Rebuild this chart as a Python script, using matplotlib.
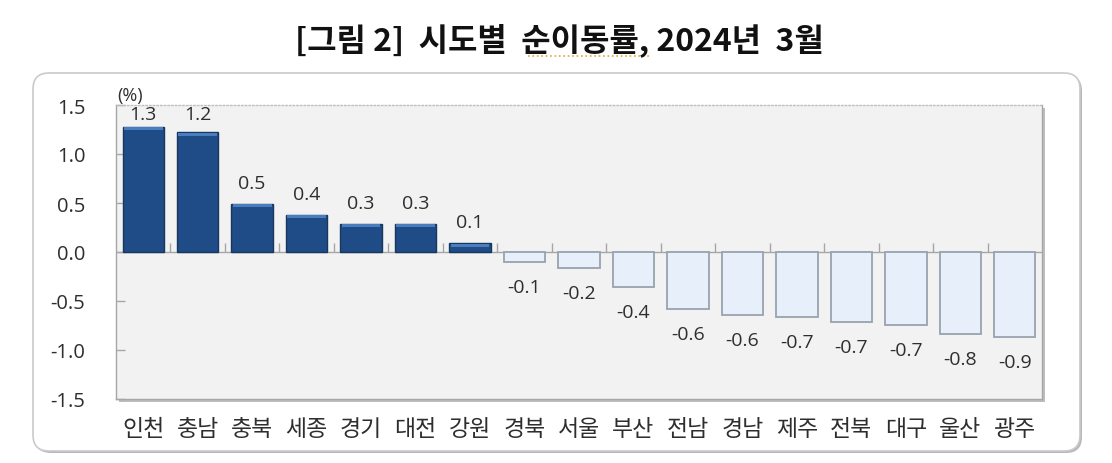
import numpy as np
import matplotlib
matplotlib.use("Agg")
import matplotlib.pyplot as plt
from matplotlib.patches import FancyBboxPatch, Rectangle
from matplotlib.lines import Line2D

plt.rcParams['font.family'] = ['Noto Sans CJK KR', 'DejaVu Sans']
plt.rcParams['axes.unicode_minus'] = False

# 시도별 순이동률 (%), 2024년 3월
regions = ['인천', '충남', '충북', '세종', '경기', '대전', '강원', '경북', '서울',
           '부산', '전남', '경남', '제주', '전북', '대구', '울산', '광주']
rates = [1.28, 1.22, 0.49, 0.38, 0.29, 0.29, 0.09, -0.10, -0.16,
         -0.36, -0.58, -0.64, -0.66, -0.71, -0.74, -0.84, -0.87]
yticks = [1.5, 1.0, 0.5, 0.0, -0.5, -1.0, -1.5]
title = '[그림 2]  시도별  순이동률, 2024년  3월'

POS_COLOR = '#1F4B86'
POS_EDGE = '#17375F'
POS_TOP = '#4A7DBE'
NEG_COLOR = '#E6EFFA'
NEG_EDGE = '#98A3AF'
GRID_GRAY = '#A6A6A6'
TEXT = '#2E2E2E'
NUM_FONT = ['Open Sans', 'DejaVu Sans']

fig = plt.figure(figsize=(11.12, 4.64), dpi=100)
fig.patch.set_facecolor('white')

# outer rounded frame with soft shadow (inches)
inch = fig.dpi_scale_trans
shadow_box = FancyBboxPatch((0.35, 0.10), 10.47, 3.78,
                            boxstyle='round,pad=0,rounding_size=0.16',
                            transform=inch, facecolor='#B8B8B8', edgecolor='none', zorder=-3)
frame_box = FancyBboxPatch((0.33, 0.12), 10.47, 3.78,
                           boxstyle='round,pad=0,rounding_size=0.16',
                           transform=inch, facecolor='white', edgecolor='#CACACA',
                           linewidth=1.2, zorder=-2)
fig.add_artist(shadow_box)
fig.add_artist(frame_box)

ax_l, ax_b, ax_w, ax_h = 116 / 1112, 64 / 464, 926 / 1112, 294 / 464
# plot area shadow
fig.add_artist(Rectangle((ax_l + 3 / 1112, ax_b - 3 / 464), ax_w, ax_h,
                         transform=fig.transFigure, facecolor='#BDBDBD',
                         edgecolor='none', zorder=-1))
ax = fig.add_axes([ax_l, ax_b, ax_w, ax_h])
ax.set_facecolor('#F2F2F2')

n = len(regions)
x = np.arange(n)
vals = np.array(rates)
pos = vals > 0
bw = 0.76

# positive bars: dark navy with lighter bevel on top
ax.bar(x[pos], vals[pos], width=bw, color=POS_COLOR, edgecolor=POS_EDGE,
       linewidth=1.0, zorder=3)
ax.bar(x[pos], np.full(pos.sum(), 0.03), bottom=vals[pos] - 0.035, width=bw - 0.05,
       color=POS_TOP, linewidth=0, zorder=4)
# negative bars: pale blue with grey outline
ax.bar(x[~pos], vals[~pos], width=bw, color=NEG_COLOR, edgecolor=NEG_EDGE,
       linewidth=1.3, zorder=3)

# value labels
for xi, v in zip(x, vals):
    if v > 0:
        ly = min(v + 0.215, 1.41)
    else:
        ly = v - 0.255
    ax.text(xi, ly, f'{v:.1f}', ha='center', va='center', fontsize=14,
            family=NUM_FONT, color=TEXT, zorder=5)

# zero line and separators
ax.axhline(0, color=GRID_GRAY, linewidth=1.0, zorder=2)
ax.vlines(np.arange(1, n) - 0.5, 0, 0.09, color=GRID_GRAY, linewidth=1.0, zorder=2)

ax.set_xlim(-0.5, n - 0.5)
ax.set_ylim(-1.5, 1.5)
ax.set_yticks(yticks)
ax.set_yticklabels([f'{t:.1f}' for t in yticks], family=NUM_FONT)
ax.tick_params(axis='y', direction='in', length=6.5, width=1, color=GRID_GRAY,
               pad=22, labelsize=14.5, labelcolor=TEXT)
ax.set_xticks(x)
ax.set_xticklabels(regions)
ax.tick_params(axis='x', length=0, pad=13, labelsize=16.5, labelcolor=TEXT)

for side in ['left', 'right', 'bottom']:
    ax.spines[side].set_color(GRID_GRAY)
    ax.spines[side].set_linewidth(1.0)
ax.spines['top'].set_color('#BFBFBF')
ax.spines['top'].set_linestyle(':')
ax.spines['top'].set_linewidth(1.0)

ax.annotate('(%)', xy=(0, 1), xycoords='axes fraction', xytext=(1, 7),
            textcoords='offset points', ha='left', va='center', fontsize=13,
            family=NUM_FONT, color=TEXT)

fig.text(559 / 1112, 1 - 40 / 464, title, ha='center', va='center',
         fontsize=23, fontweight='bold', color='#111111')
# spell-check squiggle under 순이동률 as in the source image
fig.add_artist(Line2D([5.28, 6.50], [4.07, 4.07], transform=inch, color='#E8A23C',
                      linestyle=':', linewidth=1.2))

fig.savefig('out.png', dpi=100, facecolor='white')
